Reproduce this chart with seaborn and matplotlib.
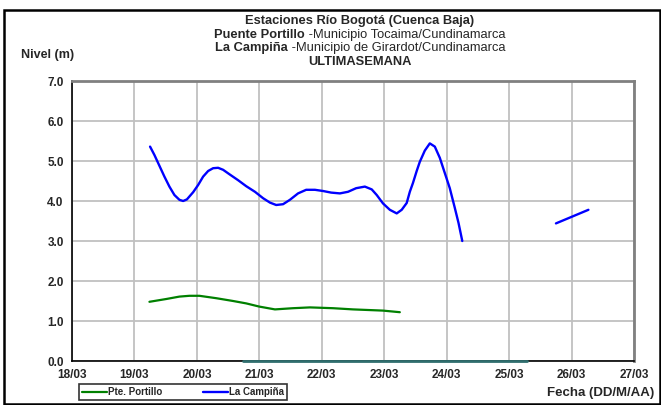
import matplotlib
matplotlib.use('Agg')
import matplotlib.pyplot as plt
import seaborn as sns
import pandas as pd
from matplotlib.patches import Rectangle

# dias de marzo (fraccion = hora del dia), niveles en metros
portillo_dia = [19.24, 19.51, 19.72, 19.88, 20.04, 20.31, 20.58, 20.79, 21.0, 21.25, 21.54, 21.81,
                22.18, 22.50, 22.98, 23.25]
portillo_nivel = [1.48, 1.55, 1.61, 1.63, 1.63, 1.57, 1.50, 1.44, 1.36, 1.29, 1.32, 1.34,
                  1.32, 1.29, 1.26, 1.22]

campina_dia = [19.25, 19.32, 19.40, 19.48, 19.56, 19.64, 19.72, 19.78, 19.84, 19.94, 20.02, 20.10,
               20.18, 20.26, 20.34, 20.42, 20.52, 20.66, 20.79, 20.93, 21.06, 21.17, 21.27, 21.38,
               21.49, 21.62, 21.75, 21.89, 22.02, 22.15, 22.29, 22.42, 22.55, 22.69, 22.80, 22.88,
               22.98, 23.09, 23.20, 23.28, 23.36, 23.41, 23.46, 23.52, 23.57, 23.65, 23.73, 23.81,
               23.89, 23.97, 24.05, 24.13, 24.19, 24.25]
campina_nivel = [5.36, 5.15, 4.88, 4.61, 4.36, 4.15, 4.03, 4.00, 4.04, 4.22, 4.40, 4.61,
                 4.75, 4.82, 4.83, 4.78, 4.67, 4.52, 4.37, 4.23, 4.07, 3.96, 3.90, 3.92,
                 4.03, 4.19, 4.28, 4.28, 4.25, 4.21, 4.19, 4.23, 4.32, 4.36, 4.29, 4.15,
                 3.94, 3.78, 3.69, 3.78, 3.95, 4.23, 4.45, 4.75, 4.98, 5.26, 5.44, 5.36,
                 5.08, 4.70, 4.32, 3.83, 3.45, 3.00]
campina_dia2 = [25.75, 26.27]
campina_nivel2 = [3.44, 3.78]

# serie en cero (sin dato)
cero_dia = [20.74, 25.29]
cero_nivel = [0.0, 0.0]

ticks_dia = list(range(18, 28))
ticks_txt = ['%02d/03' % d for d in ticks_dia]

sns.set_style('white')
plt.rcParams['font.family'] = ['Liberation Sans', 'DejaVu Sans']

fig = plt.figure(figsize=(6.61, 4.05), dpi=100)
ax = fig.add_axes([72 / 661, 1 - 361 / 405, (634 - 72) / 661, (361 - 81) / 405])

df_p = pd.DataFrame({'dia': portillo_dia, 'nivel': portillo_nivel})
df_c = pd.DataFrame({'dia': campina_dia, 'nivel': campina_nivel})
df_c2 = pd.DataFrame({'dia': campina_dia2, 'nivel': campina_nivel2})
df_0 = pd.DataFrame({'dia': cero_dia, 'nivel': cero_nivel})

sns.lineplot(data=df_0, x='dia', y='nivel', color='#2f6e6e', lw=2, ax=ax, zorder=5, clip_on=False)
sns.lineplot(data=df_p, x='dia', y='nivel', color='#008000', lw=1.6, ax=ax, label='Pte. Portillo')
sns.lineplot(data=df_c, x='dia', y='nivel', color='#0000ff', lw=1.7, ax=ax, label='La Campiña')
sns.lineplot(data=df_c2, x='dia', y='nivel', color='#0000ff', lw=1.7, ax=ax)

ax.set_xlim(18, 27)
ax.set_ylim(0, 7)
ax.set_xticks(ticks_dia)
ax.set_xticklabels(ticks_txt)
ax.set_yticks(range(0, 8))
ax.set_yticklabels(['%.1f' % v for v in range(0, 8)])
ax.grid(True, color='#c0c0c0', lw=1.3)
ax.set_axisbelow(True)
ax.set_xlabel('')
ax.set_ylabel('')
for lbl in ax.get_xticklabels() + ax.get_yticklabels():
    lbl.set_fontweight('bold')
    lbl.set_fontsize(8.5)
ax.tick_params(axis='both', direction='out', length=4, width=1, color='black', pad=2)
ax.spines['left'].set_color('black')
ax.spines['bottom'].set_color('black')
ax.spines['left'].set_linewidth(1.2)
ax.spines['bottom'].set_linewidth(1.2)
ax.spines['top'].set_color('#808080')
ax.spines['right'].set_color('#808080')
ax.spines['top'].set_linewidth(2)
ax.spines['right'].set_linewidth(2)

leg = ax.legend(loc='center', bbox_to_anchor=(183 / 661, 1 - 392 / 405), bbox_transform=fig.transFigure,
                ncol=2, frameon=True, fancybox=False, handlelength=2.6, handletextpad=0.1,
                columnspacing=4.2, borderpad=0.3, prop={'weight': 'bold', 'size': 7})
leg.get_frame().set_edgecolor('black')
leg.get_frame().set_linewidth(1.2)

# titulos
fs = 9.3
cx = 360 / 661
fig.text(cx, 1 - 21 / 405, 'Estaciones Río Bogotá (Cuenca Baja)', ha='center', va='center',
         fontsize=fs, fontweight='bold')
fig.text(cx, 1 - 62 / 405, 'ULTIMASEMANA', ha='center', va='center', fontsize=fs, fontweight='bold')

renderer = fig.canvas.get_renderer()
for negrita, resto, ypix in [('Puente Portillo', ' -Municipio Tocaima/Cundinamarca', 35),
                             ('La Campiña', ' -Municipio de Girardot/Cundinamarca', 48.5)]:
    t1 = fig.text(0, 1 - ypix / 405, negrita, ha='left', va='center', fontsize=fs, fontweight='bold')
    t2 = fig.text(0, 1 - ypix / 405, resto, ha='left', va='center', fontsize=fs)
    w1 = t1.get_window_extent(renderer).width / fig.bbox.width
    w2 = t2.get_window_extent(renderer).width / fig.bbox.width
    x0 = cx - (w1 + w2) / 2
    t1.set_x(x0)
    t2.set_x(x0 + w1)

fig.text(48 / 661, 1 - 55 / 405, 'Nivel (m)', ha='center', va='center', fontsize=9, fontweight='bold')
fig.text(654 / 661, 1 - 393 / 405, 'Fecha (DD/M/AA)', ha='right', va='center', fontsize=9.5, fontweight='bold')

# marco exterior
fig.patches.append(Rectangle((4 / 661, 1 / 405), 656 / 661, 1 - 11 / 405, transform=fig.transFigure,
                             fill=False, edgecolor='black', lw=1.8))

fig.savefig('out.png', dpi=100)
